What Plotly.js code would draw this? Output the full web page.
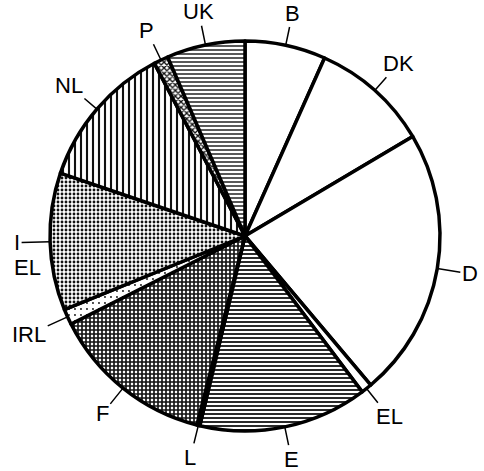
<!DOCTYPE html>
<html>
<head>
<meta charset="utf-8">
<script src="https://cdn.plot.ly/plotly-3.0.1.min.js"></script>
<style>
	body { margin: 0; background: #fff; }
	#pie { width: 484px; height: 471px; }
</style>
</head>
<body>
<div id="pie"></div>
<script>
// Shares, clockwise from 12 o'clock
const slice_names = ['B', 'DK', 'D', 'EL', 'E', 'L', 'F', 'IRL', 'I', 'NL', 'P', 'UK'];
const slice_values = [6.7, 9.8, 22.4, 0.9, 14.0, 0.25, 13.6, 1.3, 11.4, 12.1, 1.2, 6.5];

// Hatching used for every slice (same order as above)
const slice_shapes = ['', '', '', '', '-', '', '+', '.', '.', '|', 'x', '-'];
const slice_fill = ['#fff', '#fff', '#fff', '#fff', '#fff', '#000', '#fff', '#fff', '#fff', '#fff', '#fff', '#fff'];
const slice_solidity = [0, 0, 0, 0, 0.45, 0, 0.65, 0.08, 0.4, 0.35, 0.55, 0.35];
const slice_size = [4, 4, 4, 4, 4, 4, 4, 6, 4, 6, 4, 4];

// Stray label printed on the left of the original
const extra_label = 'EL';

// Builds label annotations at the middle of every slice
function build_labels() {
	let total = slice_values.reduce((a, b) => a + b, 0);
	let annotations = [];
	let cum = 0;

	for (let i = 0; i < slice_values.length; i++) {
		let mid = (cum + slice_values[i] / 2) / total * 2 * Math.PI;
		cum += slice_values[i];
		let s = Math.sin(mid);
		let c = Math.cos(mid);
		let dist = 33 + Math.abs(s) * 5 * (slice_names[i].length - 1);
		annotations.push({
			xref: 'paper', yref: 'paper',
			x: 0.5 + 0.5 * s,
			y: 0.5 + 0.5 * c,
			text: slice_names[i],
			showarrow: true,
			arrowhead: 0,
			arrowwidth: 1.5,
			arrowcolor: '#000',
			ax: dist * s,
			ay: -dist * c,
			font: {size: 22, color: '#000'}
		});
	}

	annotations.push({
		xref: 'paper', yref: 'paper',
		x: -0.097, y: 0.418,
		text: extra_label,
		showarrow: false,
		font: {size: 22, color: '#000'}
	});

	return annotations;
}

function show_pie() {
	let pie_data = [{
		type: 'pie',
		values: slice_values,
		sort: false,
		direction: 'clockwise',
		rotation: 0,
		textinfo: 'none',
		hoverinfo: 'skip',
		marker: {
			colors: slice_fill,
			line: {color: '#000', width: 3.5},
			pattern: {
				shape: slice_shapes,
				fgcolor: '#111',
				solidity: slice_solidity,
				size: slice_size
			}
		}
	}];

	let pie_layout = {
		width: 484,
		height: 471,
		margin: {"t": 41, "b": 40, "l": 50, "r": 44},
		paper_bgcolor: '#fff',
		showlegend: false,
		font: {family: 'Liberation Sans, Arial, sans-serif'},
		annotations: build_labels()
	};

	Plotly.newPlot('pie', pie_data, pie_layout, {
		displayModeBar: false,
		staticPlot: true
	});
}

show_pie()
</script>
</body>
</html>
